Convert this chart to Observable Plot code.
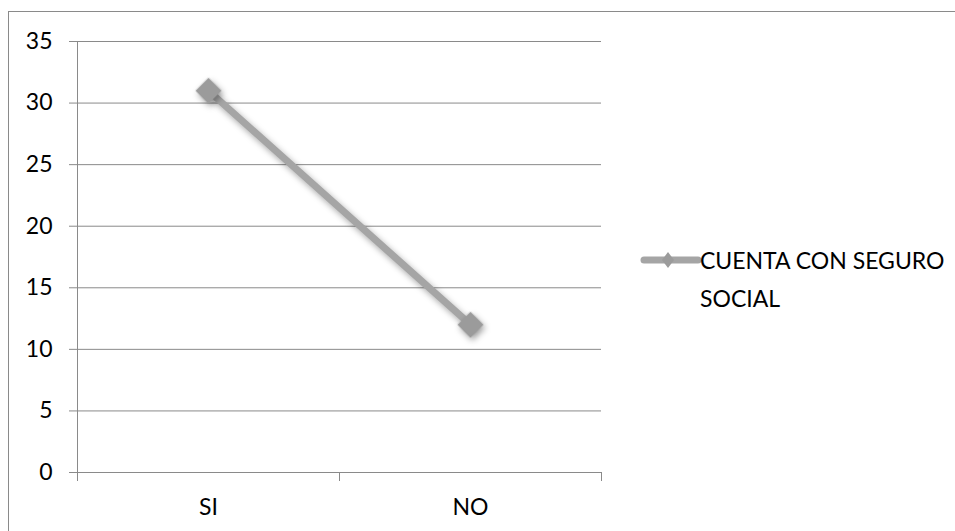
<!DOCTYPE html>
<html>
<head>
<meta charset="utf-8">
<script src="https://cdn.jsdelivr.net/npm/d3@7"></script>
<script src="https://cdn.jsdelivr.net/npm/@observablehq/plot@0.6"></script>
<style>
  html, body { margin: 0; padding: 0; background: #fff; }
  #wrap { position: relative; width: 955px; height: 531px; overflow: hidden; font-family: Lato, "Liberation Sans", sans-serif; }
  #frame { position: absolute; left: 8px; top: 11px; right: -2px; bottom: -2px; border-left: 1px solid #8a8a8a; border-top: 1px solid #8a8a8a; }
  #chart { position: absolute; left: 0; top: 0; }
  .shadowed { filter: drop-shadow(2px 3px 3px rgba(0,0,0,0.35)); }
  #legend { position: absolute; left: 640px; top: 241px; width: 320px; }
  #legend svg { position: absolute; left: 0; top: 0; }
  #legend .lbl { position: absolute; left: 60px; top: 0; width: 255px; font-size: 23px; line-height: 38px; color: #000; }
</style>
</head>
<body>
<div id="wrap">
  <div id="frame"></div>
  <div id="chart"></div>
  <div id="legend"></div>
</div>
<script>
const categories = ["SI", "NO"];
const values = [31, 12];
const yTicks = [0, 5, 10, 15, 20, 25, 30, 35];
const seriesName = "CUENTA CON SEGURO SOCIAL";

const lineColor = "#a5a5a5";
const markColor = "#9b9b9b";
const gridColor = "#8a8a8a";

const data = categories.map((c, i) => ({cat: c, pos: i + 0.5, value: values[i]}));

const chart = Plot.plot({
  width: 955,
  height: 531,
  marginLeft: 77,
  marginRight: 354,
  marginTop: 41,
  marginBottom: 59,
  style: {fontSize: "23px", fontFamily: "Lato, 'Liberation Sans', sans-serif", background: "transparent", color: "#000"},
  x: {domain: [0, categories.length]},
  y: {domain: [0, 35]},
  marks: [
    Plot.gridY(yTicks, {stroke: gridColor, strokeOpacity: 1, strokeWidth: 1}),
    Plot.axisY({ticks: yTicks, tickSize: 8, tickPadding: 17, stroke: gridColor, fill: "#000", label: null}),
    Plot.ruleX([0], {stroke: gridColor, strokeWidth: 1}),
    Plot.axisX({ticks: d3.range(categories.length + 1), tickSize: 9, tickFormat: () => "", stroke: gridColor, label: null}),
    Plot.text(data, {x: "pos", y: 0, text: "cat", dy: 35, lineAnchor: "middle", fill: "#000"}),
    Plot.line(data, {x: "pos", y: "value", stroke: lineColor, strokeWidth: 7, className: "shadowed"}),
    Plot.dot(data, {x: "pos", y: "value", symbol: "square", r: 10.4, rotate: 45, fill: markColor, stroke: "none", className: "shadowed"})
  ]
});
document.getElementById("chart").appendChild(chart);

// Legend
const legend = d3.select("#legend");
const sw = legend.append("svg").attr("width", 62).attr("height", 40);
sw.append("line").attr("x1", 4).attr("x2", 58).attr("y1", 19).attr("y2", 19)
  .attr("stroke", lineColor).attr("stroke-width", 7).attr("stroke-linecap", "round");
sw.append("path").attr("d", "M28,11 L34,19 L28,27 L22,19 Z").attr("fill", markColor);
legend.append("div").attr("class", "lbl").text(seriesName);
</script>
</body>
</html>
